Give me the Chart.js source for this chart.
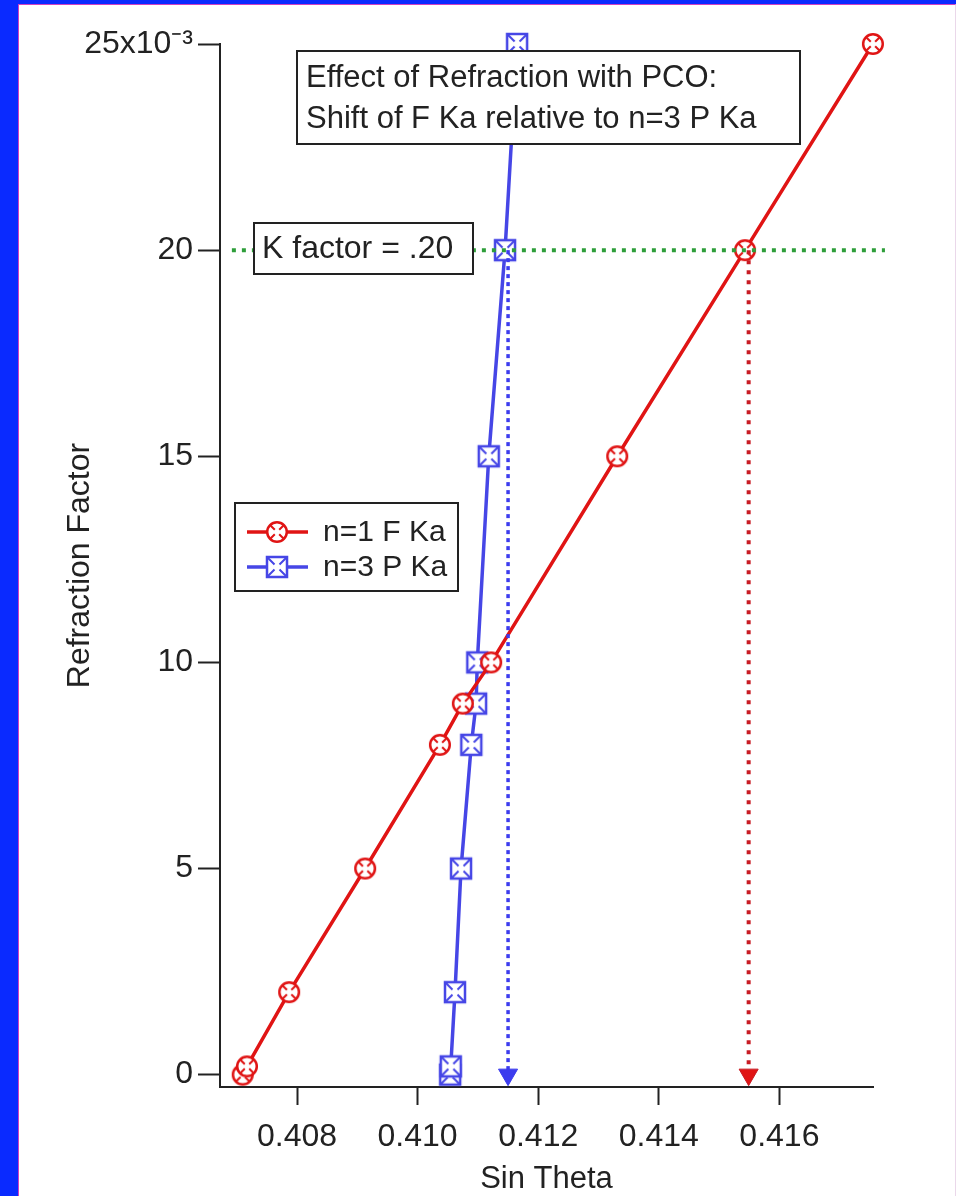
<!DOCTYPE html>
<html>
<head>
<meta charset="utf-8">
<script src="https://cdn.jsdelivr.net/npm/chart.js@4"></script>
<style>
  body { margin: 0; background: #0a2aff; width: 956px; height: 1196px; overflow: hidden; }
  #frame { position: absolute; left: 18px; top: 4px; width: 936px; height: 1192px; background: #fff;
           border-left: 1px solid #d040c0; border-top: 1px solid #d040c0; border-right: 1px solid #ead8ea; }
  #chart { position: absolute; left: 0; top: 0; }
</style>
</head>
<body>
<div id="frame"></div>
<canvas id="chart" width="956" height="1196"></canvas>
<script>
// values (refraction factor in absolute units, x10^-3 on the axis)
const refractionFactor = [0, 0.0002, 0.002, 0.005, 0.008, 0.009, 0.010, 0.015, 0.020, 0.025];
const sinThetaF = [0.40710, 0.40717, 0.40787, 0.40913, 0.41037, 0.41075, 0.41122, 0.41331, 0.41543, 0.41755];
const sinThetaP = [0.41054, 0.41055, 0.41062, 0.41072, 0.41089, 0.41097, 0.41099, 0.41118, 0.41145, 0.41165];

const kFactor = 0.020;
const kLineX = [0.40692, 0.41775];
const kCrossF = 0.41549;
const kCrossP = 0.41150;

const xTicks = [0.408, 0.410, 0.412, 0.414, 0.416];
const yTicks = [0, 0.005, 0.010, 0.015, 0.020, 0.025];

const seriesLabels = ["n=1 F Ka", "n=3 P Ka"];
const noteLines = ["Effect of Refraction with PCO:", "Shift of F Ka relative to n=3 P Ka"];
const kNote = "K factor = .20";

const FONT = "'Liberation Sans', Arial, sans-serif";
const RED = "#e01414";
const BLUE = "#4646e6";
const INK = "#222";

Chart.defaults.font.family = FONT;
Chart.defaults.color = INK;

function circleMarker(color) {
  const c = document.createElement("canvas");
  c.width = 26; c.height = 26;
  const g = c.getContext("2d");
  g.lineWidth = 2.5;
  g.strokeStyle = color;
  g.fillStyle = "#fff";
  g.beginPath(); g.arc(13, 13, 9.8, 0, Math.PI * 2); g.fill(); g.stroke();
  g.lineWidth = 2;
  g.beginPath();
  [[1, 1], [1, -1], [-1, 1], [-1, -1]].forEach(([sx, sy]) => {
    g.moveTo(13 + sx * 2.2, 13 + sy * 2.2);
    g.lineTo(13 + sx * 6.5, 13 + sy * 6.5);
  });
  g.stroke();
  return c;
}

function squareMarker(color) {
  const c = document.createElement("canvas");
  c.width = 26; c.height = 26;
  const g = c.getContext("2d");
  g.lineWidth = 2.5;
  g.strokeStyle = color;
  g.fillStyle = "#fff";
  g.fillRect(3, 3, 20, 20);
  g.strokeRect(3, 3, 20, 20);
  g.lineWidth = 2;
  g.beginPath();
  [[1, 1], [1, -1], [-1, 1], [-1, -1]].forEach(([sx, sy]) => {
    g.moveTo(13 + sx * 2.5, 13 + sy * 2.5);
    g.lineTo(13 + sx * 9, 13 + sy * 9);
  });
  g.stroke();
  return c;
}

const toPoints = (xs, ys) => xs.map((x, i) => ({ x: x, y: ys[i] }));

// boxes and legend drawn over the plot, like the original
const overlay = {
  id: "overlay",
  afterDatasetsDraw(chart) {
    const ctx = chart.ctx;
    ctx.save();
    ctx.lineWidth = 2;
    ctx.strokeStyle = INK;
    ctx.fillStyle = "#fff";

    // title note
    ctx.fillRect(297, 51, 503, 93);
    ctx.strokeRect(297, 51, 503, 93);
    ctx.fillStyle = INK;
    ctx.font = "31px " + FONT;
    ctx.textBaseline = "middle";
    ctx.fillText(noteLines[0], 306, 78);
    ctx.fillText(noteLines[1], 306, 119);

    // k factor note
    ctx.fillStyle = "#fff";
    ctx.fillRect(254, 223, 219, 51);
    ctx.strokeRect(254, 223, 219, 51);
    ctx.fillStyle = INK;
    ctx.font = "32px " + FONT;
    ctx.fillText(kNote, 262, 249);

    // legend
    ctx.fillStyle = "#fff";
    ctx.fillRect(235, 503, 223, 88);
    ctx.strokeRect(235, 503, 223, 88);
    ctx.font = "30px " + FONT;
    [0, 1].forEach((i) => {
      const ds = chart.data.datasets[i + 3];
      const y = 532 + i * 35;
      ctx.strokeStyle = ds.borderColor;
      ctx.lineWidth = 3.5;
      ctx.beginPath(); ctx.moveTo(247, y); ctx.lineTo(308, y); ctx.stroke();
      const img = ds.pointStyle;
      ctx.drawImage(img, 277 - img.width / 2, y - img.height / 2);
      ctx.fillStyle = INK;
      ctx.fillText(ds.label, 323, y + 1);
    });
    ctx.restore();
  }
};

new Chart(document.getElementById("chart"), {
  type: "scatter",
  data: {
    datasets: [
      {
        label: "K factor",
        data: toPoints(kLineX, [kFactor, kFactor]),
        showLine: true, borderColor: "#2e9e3a", borderWidth: 4, borderDash: [4, 6],
        pointRadius: 0, clip: false
      },
      {
        label: "F shift",
        data: toPoints([kCrossF, kCrossF], [kFactor, 0]),
        showLine: true, borderColor: "#c81c24", backgroundColor: "#e01414", borderWidth: 4, borderDash: [4, 6],
        pointStyle: "triangle", pointRotation: 180, pointRadius: [0, 11], pointBorderWidth: 1, clip: false
      },
      {
        label: "P shift",
        data: toPoints([kCrossP, kCrossP], [kFactor, 0]),
        showLine: true, borderColor: "#3c3cee", backgroundColor: "#3c3cee", borderWidth: 3.5, borderDash: [4, 4],
        pointStyle: "triangle", pointRotation: 180, pointRadius: [0, 11], pointBorderWidth: 1, clip: false
      },
      {
        label: seriesLabels[0],
        data: toPoints(sinThetaF, refractionFactor),
        showLine: true, borderColor: RED, borderWidth: 3.5,
        pointStyle: circleMarker(RED), clip: false
      },
      {
        label: seriesLabels[1],
        data: toPoints(sinThetaP, refractionFactor),
        showLine: true, borderColor: BLUE, borderWidth: 3.5,
        pointStyle: squareMarker(BLUE), clip: false
      }
    ]
  },
  options: {
    responsive: false,
    animation: false,
    devicePixelRatio: 1,
    layout: { padding: { left: 0, top: 44, right: 83, bottom: 0 } },
    plugins: { legend: { display: false }, tooltip: { enabled: false } },
    scales: {
      x: {
        type: "linear",
        min: 0.406723,
        max: 0.417552,
        afterBuildTicks: (s) => { s.ticks = xTicks.map((v) => ({ value: v })); },
        afterFit: (s) => { s.height = 109; },
        ticks: { callback: (v) => v.toFixed(3), font: { size: 32 }, padding: 13, color: INK, maxRotation: 0 },
        grid: { drawOnChartArea: false, tickLength: 18, tickWidth: 2, tickColor: INK },
        border: { color: INK, width: 2 },
        title: { display: true, text: "Sin Theta", font: { size: 31, lineHeight: 1 }, padding: { top: 0, bottom: 1 }, color: INK }
      },
      y: {
        type: "linear",
        min: -0.0003,
        max: 0.025,
        afterBuildTicks: (s) => { s.ticks = yTicks.map((v) => ({ value: v })); },
        afterFit: (s) => { s.width = 220; },
        ticks: {
          callback: (v) => (v === 0.025 ? "25x10\u207B\u00B3" : String(Math.round(v * 1000))),
          font: { size: 32 }, padding: 5, color: INK
        },
        grid: { drawOnChartArea: false, tickLength: 22, tickWidth: 2, tickColor: INK },
        border: { color: INK, width: 2 },
        title: { display: true, text: "Refraction Factor", font: { size: 32, lineHeight: 1 }, padding: { top: 64, bottom: 0 }, color: INK }
      }
    }
  },
  plugins: [overlay]
});
</script>
</body>
</html>
